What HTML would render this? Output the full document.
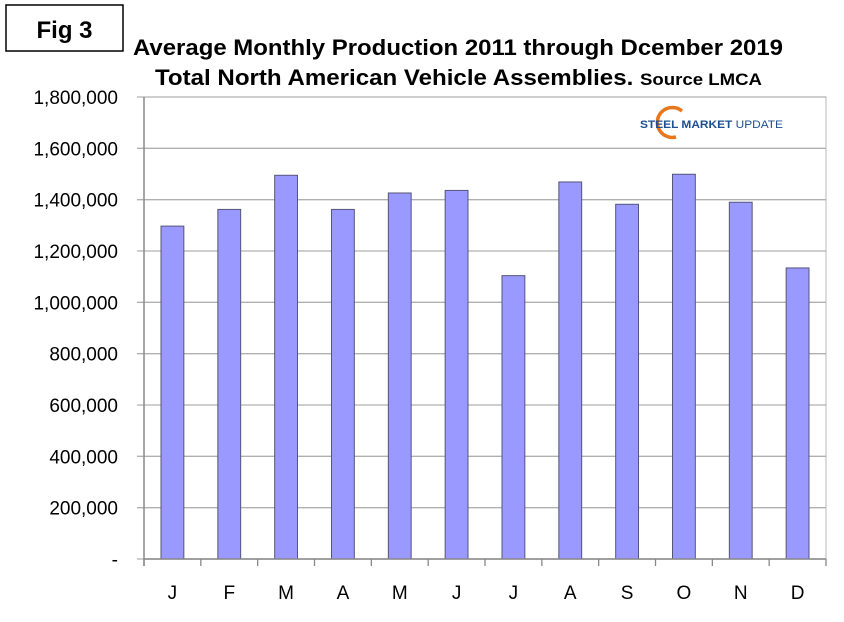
<!DOCTYPE html>
<html><head><meta charset="utf-8"><style>
html,body{margin:0;padding:0;background:#fff;}
svg{display:block;font-family:"Liberation Sans",Arial,sans-serif;}
</style></head><body>
<svg id="chart" width="844" height="622" viewBox="0 0 844 622">
<rect x="6" y="5" width="117" height="46" fill="#fff" stroke="#000" stroke-width="1.5"/>
<text x="64.5" y="38" text-anchor="middle" font-size="24" font-weight="bold">Fig 3</text>
<text x="133" y="55" font-size="22" font-weight="bold" textLength="650" lengthAdjust="spacingAndGlyphs">Average Monthly Production 2011 through Dcember 2019</text>
<text x="155" y="85" font-size="22" font-weight="bold" textLength="607" lengthAdjust="spacingAndGlyphs">Total North American Vehicle Assemblies. <tspan font-size="17">Source LMCA</tspan></text>
<g id="grid"></g>
<g id="bars"></g>
<g id="axes"></g>
<g>
<path d="M682,111 A15,15 0 1,0 676,137" fill="none" stroke="#e8761c" stroke-width="3.5"/>
<text x="640" y="128" font-size="11" font-weight="bold" fill="#1d4f91" textLength="143" lengthAdjust="spacingAndGlyphs">STEEL MARKET <tspan font-weight="normal">UPDATE</tspan></text>
</g>
</svg>
<script>
const categories=["J","F","M","A","M","J","J","A","S","O","N","D"];
const values=[1297000,1362000,1495000,1362000,1426000,1436000,1104000,1469000,1382000,1499000,1390000,1134000];
const yTicks=[0,200000,400000,600000,800000,1000000,1200000,1400000,1600000,1800000];
const yTickLabels=["-","200,000","400,000","600,000","800,000","1,000,000","1,200,000","1,400,000","1,600,000","1,800,000"];
const NS="http://www.w3.org/2000/svg";
const L=144,R=826,T=97,B=559,yMax=1800000;
const bw=(R-L)/categories.length;
function y(v){return B-(v/yMax)*(B-T);}
function x(i){return L+i*bw;}
function mk(t,a,p){const e=document.createElementNS(NS,t);for(const k in a)e.setAttribute(k,a[k]);p.appendChild(e);return e;}
const grid=document.getElementById('grid'),bars=document.getElementById('bars'),axes=document.getElementById('axes');
mk('rect',{x:L,y:T,width:R-L,height:B-T,fill:'none',stroke:'#bbb','stroke-width':1},grid);
yTicks.forEach((v,i)=>{
  const g=mk('line',{x1:137,x2:R,y1:y(v),y2:y(v),stroke:'#b0b0b0','stroke-width':1.3},grid);
  
  
  const t=mk('text',{x:118,y:y(v)+7,'text-anchor':'end','font-size':19},axes);
  t.textContent=yTickLabels[i];
  
  
});
values.forEach((v,i)=>{
  const r=mk('rect',{x:x(i)+17,y:y(v),width:bw-34,height:B-y(v),fill:'#9999ff',stroke:'#55557a','stroke-width':1},bars);
  
  
  const t=mk('text',{x:x(i)+bw/2,y:599,'text-anchor':'middle','font-size':19},axes);
  t.textContent=categories[i];
  
  
});
for(let i=0;i<=categories.length;i++){
  const tk=mk('line',{x1:x(i),x2:x(i),y1:B,y2:B+7,stroke:'#888','stroke-width':1.3},axes);
  
  
}
const ax=mk('line',{x1:L,x2:L,y1:T,y2:B+7,stroke:'#888','stroke-width':1.5},axes);


const xa=mk('line',{x1:L,x2:R,y1:B,y2:B,stroke:'#888','stroke-width':1.5},axes);


</script>
</body></html>
